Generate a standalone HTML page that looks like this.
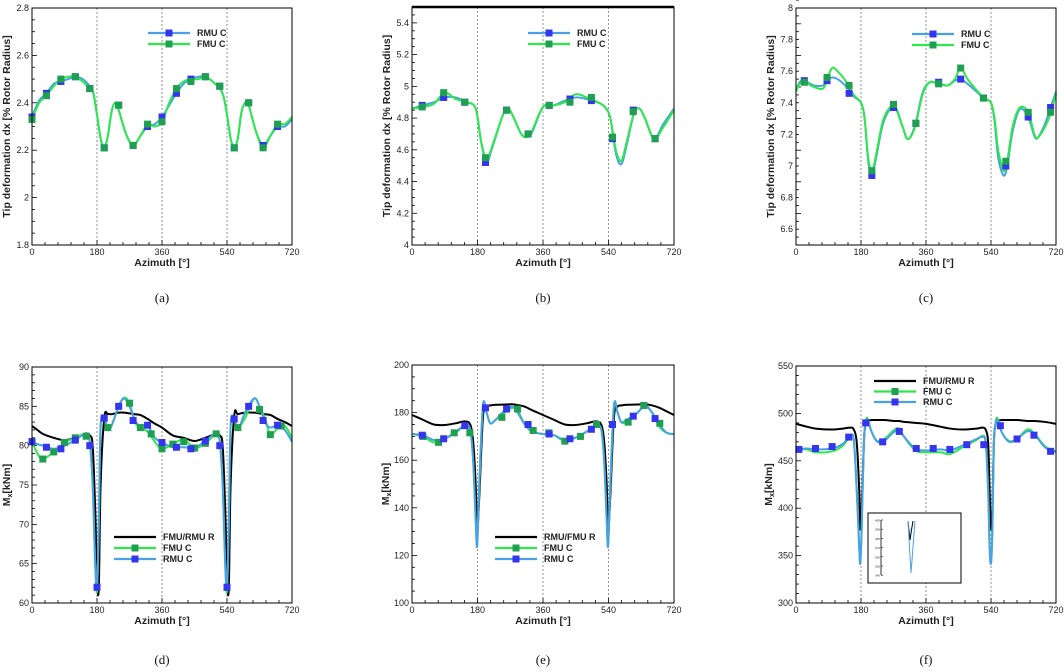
<!DOCTYPE html>
<html><head><meta charset="utf-8"><style>
html,body{margin:0;padding:0;background:#fff;}
svg{display:block;font-family:"Liberation Sans",sans-serif;}
.tk{font-size:9px;fill:#222;}
.ax{font-size:10.5px;font-weight:bold;fill:#222;}
.lg{font-size:9px;font-weight:bold;fill:#222;}
.cap{font-family:"Liberation Serif",serif;font-size:13px;fill:#111;}
</style></head><body>
<svg id="fig" width="1064" height="672" viewBox="0 0 1064 672" xmlns="http://www.w3.org/2000/svg"></svg>
<script>
// ---- Panel (a) data ----
const aAz=[0,20,40,60,80,100,120,140,160,170,180,190,200,210,220,230,240,260,280,300,320,340,360,380,400,420,440,460,480,500,520,530,540,550,560,570,580,590,600,620,640,660,680,700,720];
const aFmu=[2.33,2.40,2.43,2.47,2.50,2.51,2.51,2.49,2.46,2.44,2.35,2.25,2.21,2.26,2.36,2.40,2.37,2.27,2.22,2.26,2.31,2.30,2.32,2.40,2.46,2.49,2.50,2.50,2.51,2.49,2.46,2.43,2.35,2.25,2.21,2.25,2.36,2.40,2.39,2.28,2.21,2.26,2.31,2.31,2.34];
const aRmu=[2.34,2.41,2.44,2.48,2.49,2.50,2.51,2.50,2.47,2.44,2.35,2.25,2.21,2.26,2.36,2.40,2.37,2.27,2.22,2.26,2.30,2.31,2.34,2.39,2.44,2.48,2.50,2.51,2.51,2.49,2.46,2.43,2.35,2.25,2.21,2.25,2.36,2.40,2.39,2.28,2.22,2.26,2.30,2.30,2.33];
const aMkAz=[0,40,80,120,160,200,240,280,320,360,400,440,480,520,560,600,640,680];
const aMkFmu=[2.33,2.43,2.50,2.51,2.46,2.21,2.39,2.22,2.31,2.32,2.46,2.49,2.51,2.47,2.21,2.40,2.21,2.31];
const aMkRmu=[2.34,2.44,2.49,2.51,2.46,2.21,2.39,2.22,2.30,2.34,2.44,2.50,2.51,2.47,2.21,2.40,2.22,2.30];
// ---- Panel (b) data ----
const bAz=[0,30,60,90,120,150,175,190,205,220,250,265,280,300,315,330,360,390,420,450,480,510,530,545,560,575,590,610,625,640,665,690,720];
const bFmu=[4.86,4.87,4.89,4.96,4.92,4.90,4.86,4.65,4.54,4.62,4.82,4.86,4.80,4.70,4.68,4.72,4.87,4.88,4.90,4.95,4.93,4.90,4.87,4.80,4.60,4.53,4.65,4.83,4.86,4.80,4.67,4.74,4.85];
const bRmu=[4.86,4.88,4.90,4.93,4.93,4.90,4.86,4.65,4.52,4.61,4.82,4.86,4.80,4.70,4.68,4.71,4.87,4.88,4.91,4.93,4.92,4.90,4.87,4.80,4.58,4.51,4.63,4.83,4.86,4.80,4.67,4.76,4.86];
const bMkAz=[28,87,145,202,260,319,377,434,493,551,608,668];
const bMkFmu=[4.87,4.96,4.90,4.55,4.85,4.70,4.88,4.90,4.93,4.68,4.84,4.67];
const bMkRmu=[4.88,4.93,4.90,4.52,4.85,4.70,4.88,4.92,4.91,4.67,4.85,4.67];
// ---- Panel (c) data ----
const cAz=[0,10,23,50,75,86,100,115,140,160,180,190,200,210,220,240,260,275,295,310,330,350,370,395,420,440,456,475,500,520,540,550,560,575,585,600,620,643,660,670,690,705,720];
const cFmu=[7.47,7.52,7.53,7.50,7.49,7.55,7.62,7.60,7.53,7.45,7.40,7.30,7.05,6.97,7.05,7.28,7.37,7.38,7.25,7.17,7.25,7.45,7.53,7.52,7.51,7.55,7.62,7.55,7.48,7.43,7.40,7.30,7.10,6.97,7.03,7.25,7.37,7.34,7.20,7.18,7.25,7.33,7.46];
const cRmu=[7.48,7.53,7.54,7.51,7.51,7.54,7.56,7.55,7.50,7.44,7.40,7.30,7.03,6.94,7.03,7.26,7.36,7.37,7.25,7.17,7.26,7.46,7.53,7.52,7.51,7.54,7.55,7.52,7.47,7.43,7.40,7.28,7.05,6.94,7.00,7.22,7.36,7.31,7.19,7.18,7.27,7.37,7.47];
const cMkAz=[23,86,147,210,270,332,395,456,519,581,643,705];
const cMkFmu=[7.53,7.56,7.51,6.97,7.39,7.27,7.52,7.62,7.43,7.03,7.34,7.34];
const cMkRmu=[7.54,7.54,7.46,6.94,7.37,7.27,7.53,7.55,7.43,7.00,7.31,7.37];
// ---- Panel (d) data ----
const dAz=[0,15,30,60,90,120,150,160,168,175,180,185,190,200,210,220,240,255,270,285,300,320,340,360,390,420,450,480,510,520,528,535,540,545,550,560,570,590,615,630,645,660,680,700,720];
const dRef=[82.5,82,81.5,81,80.7,81,81.5,81.3,80,72,63,62,75,83.5,84,84,84.2,84.2,84.1,84,83.9,83.4,82.8,82.3,81.3,81,80.6,81,81.5,81.3,80,72,63,62,75,83.8,84,84.2,84.2,84.1,84,83.9,83.4,83,82.5];
const dFmu=[80.5,79,78.3,79.2,80.4,81,81.5,80.5,75,65,61.5,70,82.5,83.5,82.3,82.5,85,86.1,85.4,83,82.3,81.8,80.5,79.6,80.2,80.8,79.7,80.3,81.5,80.5,75,65,61.5,70,82.5,83.5,82.3,83.5,86,85,83.5,81.4,82.2,82.5,81];
const dRmu=[80.5,80.2,80,79.6,80,80.7,81.6,80.5,75,65,62,70,82.5,83.5,82,82.5,85,86,85,83.2,82.5,82.6,81,80.4,79.8,79.8,79.7,80.6,81.6,80.5,75,65,62,70,82.5,83.4,82,84.2,86,85,83,82.3,82.6,82,80.5];
const dMkAz=[0,40,80,120,160,180,200,240,280,320,360,400,440,480,520,540,560,600,640,680];
const dMkRmu=[80.5,79.8,79.6,80.7,80,62,83.5,85,83.2,82.6,80.4,79.8,79.6,80.6,80,62,83.4,85,83.2,82.6];
const dMkFmuAz=[0,30,60,90,120,150,180,210,270,300,330,360,390,420,450,480,510,540,570,630,660,690];
const dMkFmu=[80.5,78.3,79.2,80.4,81,81.2,62,82.3,85.4,82.3,81.5,79.6,80.2,80.5,79.7,80.3,81.5,62,82.3,84.6,81.4,82.5];
// ---- Panel (e) data ----
const eAz=[0,30,60,90,120,145,160,168,175,179,185,195,205,215,230,255,275,290,310,330,360,390,420,450,480,505,520,528,535,539,545,555,565,575,590,620,640,660,680,700,720];
const eRef=[179,177,175,174.8,175.5,176.3,175,168,150,130,145,178,182.5,183,183.3,183.4,183.5,183.2,182.5,181,179,177,175,174.8,175.5,176.3,175,168,150,130,145,178,182.5,183,183.3,183.4,183.5,183,182,180.5,179];
const eFmu=[171,170,167.5,169,171.5,174.5,172,160,135,124,150,183,180,175.5,177,180,182,181,175,172,171,170.5,168,169.5,172,174.5,173,160,135,124,150,183,180,176,176,180,183,180,174,171.5,171];
const eRmu=[171,170.5,168.5,169,172,174.5,173,160,135,124,150,183,180,175.5,177,181,182.5,180,175,172,171,170.5,168.5,169.5,172,174.5,173,160,135,124,150,183,180,176,177,180,183,180,175,171.5,171];
const eMkAz=[28,87,145,202,260,319,377,434,493,551,608,668];
const eMkRmu=[170.5,169,174.5,182,181.5,175,171,169,173,175,178.5,177.5];
const eMkFmuAz=[30,73,116,159,247,290,333,376,420,463,507,594,637,681];
const eMkFmu=[170,167.5,171.5,171.5,178,181.5,172.5,171.5,168,170,175,176,183,175.5];
// ---- Panel (f) data ----
const fAz=[0,30,54,100,130,150,160,168,175,178,182,188,193,198,210,225,245,270,285,300,330,360,400,426,460,500,515,525,532,536,540,544,548,553,558,570,590,612,640,660,690,720];
const fRef=[489,486,484,483,484,485,483,470,420,378,400,470,490,492,493,493,493,492,492,491,490,489,486,484,483,484,485,483,470,420,378,400,470,490,492,493,493,493,492,492,491,489];
const fFmu=[462,462,459,460,466,476,472,420,360,342,380,470,490,495,480,471,473,482,484,475,461,459,459,457,464,472,476,470,420,360,342,380,470,490,495,480,471,473,483,479,465,460];
const fRmu=[462,463,462,463,468,476,472,420,360,342,380,470,489,493,480,470,471,480,482,475,463,461,462,461,466,473,475,470,420,360,342,380,470,489,493,480,470,473,481,478,464,459];
const fMkAz=[8,54,100,146,193,240,286,333,380,426,473,520,566,612,659,705];
const fMkRmu=[462,463,465,475,490,470,481,463,463,462,467,467,487,473,477,460];

const NS="http://www.w3.org/2000/svg";
const svg=document.getElementById('fig');
function mk(tag,attrs,parent){const e=document.createElementNS(NS,tag);for(const k in attrs)e.setAttribute(k,attrs[k]);(parent||svg).appendChild(e);return e;}
function smooth(pts){
  let d='M'+pts[0][0].toFixed(2)+','+pts[0][1].toFixed(2);
  for(let i=0;i<pts.length-1;i++){
    const p0=pts[Math.max(0,i-1)],p1=pts[i],p2=pts[i+1],p3=pts[Math.min(pts.length-1,i+2)];
    const c1=[p1[0]+(p2[0]-p0[0])/6,p1[1]+(p2[1]-p0[1])/6];
    const c2=[p2[0]-(p3[0]-p1[0])/6,p2[1]-(p3[1]-p1[1])/6];
    d+='C'+c1[0].toFixed(2)+','+c1[1].toFixed(2)+' '+c2[0].toFixed(2)+','+c2[1].toFixed(2)+' '+p2[0].toFixed(2)+','+p2[1].toFixed(2);
  }
  return d;
}
const GREEN='#2de84a',GREENM='#1ea050',BLUE='#4aa0e6',BLUEM='#3535f0';

function panel(cfg){
  const g=mk('g',{});
  
  
  const X=a=>cfg.x0+(a/720)*(cfg.x1-cfg.x0);
  const Y=v=>cfg.yb-(v-cfg.ymin)/(cfg.ymax-cfg.ymin)*(cfg.yb-cfg.yt);
  [180,360,540].forEach(a=>{const l=mk('line',{x1:X(a),x2:X(a),y1:cfg.yt,y2:cfg.yb,stroke:'#777','stroke-width':0.8,'stroke-dasharray':'2,2'},g);
    });
  for(let a=0;a<=720;a+=36){const maj=a%180===0;mk('line',{x1:X(a),x2:X(a),y1:cfg.yb,y2:cfg.yb-(maj?5:3),stroke:'#000','stroke-width':0.8},g);}
  [0,180,360,540,720].forEach(a=>{const t=mk('text',{x:X(a),y:cfg.yb+10,'text-anchor':'middle',class:'tk'},g);t.textContent=a;
    });
  const nt=Math.round((cfg.ymax-cfg.ymin)/cfg.ystep);
  for(let i=0;i<=nt*cfg.sub;i++){const v=cfg.ymin+i*cfg.ystep/cfg.sub;const maj=i%cfg.sub===0;
    mk('line',{x1:cfg.x0,x2:cfg.x0+(maj?5:3),y1:Y(v),y2:Y(v),stroke:'#000','stroke-width':0.8},g);}
  cfg.ylabels.forEach(v=>{const t=mk('text',{x:cfg.x0-3,y:Y(v)+3,'text-anchor':'end',class:'tk'},g);t.textContent=v;
    });
  cfg.series.forEach(s=>{
    const p=mk('path',{d:smooth(s.az.map((a,i)=>[X(a),Y(s.v[i])])),fill:'none',stroke:s.color,'stroke-width':s.w||2,'stroke-linejoin':'round'},g);
    
  });
  cfg.markers.forEach(m=>{
    m.az.forEach((a,i)=>{const r=mk('rect',{x:X(a)-3.5,y:Y(m.v[i])-3.5,width:7,height:7,fill:m.color},g);
      });
  });
  const f=mk('rect',{x:cfg.x0,y:cfg.yt,width:cfg.x1-cfg.x0,height:cfg.yb-cfg.yt,fill:'none',stroke:'#000','stroke-width':1},g);
  
  if(cfg.thickTop){mk('line',{x1:cfg.x0,x2:cfg.x1,y1:cfg.yt,y2:cfg.yt,stroke:'#000','stroke-width':2.5},g);}
  const xt=mk('text',{x:(cfg.x0+cfg.x1)/2,y:cfg.yb+21,'text-anchor':'middle',class:'ax'},g);xt.textContent='Azimuth [°]';
  
  const yc=(cfg.yt+cfg.yb)/2;
  const yt=mk('text',{x:cfg.ylx,y:yc,'text-anchor':'middle',class:'ax',transform:`rotate(-90 ${cfg.ylx} ${yc})`},g);
  if(cfg.mx){yt.innerHTML='M<tspan font-size="7" dy="2">x</tspan><tspan dy="-2">[kNm]</tspan>';}
  else yt.textContent='Tip deformation dx [% Rotor Radius]';
  
  cfg.legend.items.forEach((it,i)=>{
    const ly=cfg.legend.y+i*cfg.legend.dy;
    const lg=mk('g',{},g);
    
    mk('line',{x1:cfg.legend.x,x2:cfg.legend.x+42,y1:ly,y2:ly,stroke:it.c,'stroke-width':it.w||2.2},lg);
    if(it.m) mk('rect',{x:cfg.legend.x+17.5,y:ly-3.5,width:7,height:7,fill:it.m},lg);
    const t=mk('text',{x:cfg.legend.x+49,y:ly+3,class:'lg'},lg);t.textContent=it.t;
  });
  const cap=mk('text',{x:(cfg.x0+cfg.x1)/2,y:cfg.capy,'text-anchor':'middle',class:'cap'},g);cap.textContent=cfg.cap;
  
  return {g,X,Y};
}
const topLeg=(x,y)=>({x,y,dy:11,items:[{t:'RMU C',c:BLUE,m:BLUEM},{t:'FMU C',c:GREEN,m:GREENM}]});
panel({name:'panel-a',x0:32,x1:292,yt:8,yb:245,ymin:1.8,ymax:2.8,ystep:0.2,sub:4,ylabels:['1.8','2','2.2','2.4','2.6','2.8'].map(Number),ylx:10,cap:'(a)',capy:302,
  series:[{id:'rmu-c',az:aAz,v:aRmu,color:BLUE},{id:'fmu-c',az:aAz,v:aFmu,color:GREEN}],
  markers:[{id:'rmu-c',az:aMkAz,v:aMkRmu,color:BLUEM},{id:'fmu-c',az:aMkAz,v:aMkFmu,color:GREENM}],legend:topLeg(148,33)});
panel({name:'panel-b',x0:412,x1:674,yt:7,yb:245,ymin:4,ymax:5.5,ystep:0.2,sub:4,thickTop:true,ylabels:[4,4.2,4.4,4.6,4.8,5,5.2,5.4],ylx:390,cap:'(b)',capy:302,
  series:[{id:'rmu-c',az:bAz,v:bRmu,color:BLUE},{id:'fmu-c',az:bAz,v:bFmu,color:GREEN}],
  markers:[{id:'rmu-c',az:bMkAz,v:bMkRmu,color:BLUEM},{id:'fmu-c',az:bMkAz,v:bMkFmu,color:GREENM}],legend:topLeg(528,33)});
panel({name:'panel-c',x0:796,x1:1056,yt:8,yb:245,ymin:6.5,ymax:8,ystep:0.2,sub:4,ylabels:[6.6,6.8,7,7.2,7.4,7.6,7.8,8],ylx:774,cap:'(c)',capy:302,
  series:[{id:'rmu-c',az:cAz,v:cRmu,color:BLUE},{id:'fmu-c',az:cAz,v:cFmu,color:GREEN}],
  markers:[{id:'rmu-c',az:cMkAz,v:cMkRmu,color:BLUEM},{id:'fmu-c',az:cMkAz,v:cMkFmu,color:GREENM}],legend:topLeg(912,34)});
panel({name:'panel-d',x0:32,x1:292,yt:367,yb:603,ymin:60,ymax:90,ystep:5,sub:5,ylabels:[60,65,70,75,80,85,90],ylx:10,mx:true,cap:'(d)',capy:664,
  series:[{id:'fmu-rmu-r',az:dAz,v:dRef,color:'#000'},{id:'fmu-c',az:dAz,v:dFmu,color:GREEN},{id:'rmu-c',az:dAz,v:dRmu,color:BLUE}],
  markers:[{id:'fmu-c',az:dMkFmuAz,v:dMkFmu,color:GREENM},{id:'rmu-c',az:dMkAz,v:dMkRmu,color:BLUEM}],
  legend:{x:114,y:537,dy:11,items:[{t:'FMU/RMU R',c:'#000'},{t:'FMU C',c:GREEN,m:GREENM},{t:'RMU C',c:BLUE,m:BLUEM}]}});
panel({name:'panel-e',x0:412,x1:674,yt:365,yb:603,ymin:100,ymax:200,ystep:20,sub:4,ylabels:[100,120,140,160,180,200],ylx:389,mx:true,cap:'(e)',capy:664,
  series:[{id:'rmu-fmu-r',az:eAz,v:eRef,color:'#000'},{id:'fmu-c',az:eAz,v:eFmu,color:GREEN},{id:'rmu-c',az:eAz,v:eRmu,color:BLUE}],
  markers:[{id:'fmu-c',az:eMkFmuAz,v:eMkFmu,color:GREENM},{id:'rmu-c',az:eMkAz,v:eMkRmu,color:BLUEM}],
  legend:{x:495,y:537,dy:11,items:[{t:'RMU/FMU R',c:'#000'},{t:'FMU C',c:GREEN,m:GREENM},{t:'RMU C',c:BLUE,m:BLUEM}]}});
const pf=panel({name:'panel-f',x0:796,x1:1056,yt:366,yb:603,ymin:300,ymax:550,ystep:50,sub:5,ylabels:[300,350,400,450,500,550],ylx:772,mx:true,cap:'(f)',capy:664,
  series:[{id:'fmu-rmu-r',az:fAz,v:fRef,color:'#000'},{id:'fmu-c',az:fAz,v:fFmu,color:GREEN},{id:'rmu-c',az:fAz,v:fRmu,color:BLUE}],
  markers:[{id:'rmu-c',az:fMkAz,v:fMkRmu,color:BLUEM}],
  legend:{x:874,y:381,dy:10.5,items:[{t:'FMU/RMU R',c:'#000'},{t:'FMU C',c:GREEN,m:GREENM},{t:'RMU C',c:BLUE,m:BLUEM}]}});
const ins=mk('g',{});


mk('rect',{x:868,y:513,width:93,height:70,fill:'#fff',stroke:'#000','stroke-width':1},ins);
mk('line',{x1:881,x2:881,y1:520,y2:575,stroke:'#000','stroke-width':0.8},ins);
for(let i=0;i<=6;i++){mk('line',{x1:881,x2:883,y1:520+i*9.2,y2:520+i*9.2,stroke:'#000','stroke-width':0.6},ins);
  const t=mk('text',{x:880,y:521.5+i*9.2,'text-anchor':'end','font-size':'3','fill':'#333'},ins);t.textContent=400-i*10;}
mk('path',{d:'M908,521 L910,540 L911,533 L913,521',fill:'none',stroke:'#000','stroke-width':1},ins);
mk('path',{d:'M908,521 L911,573 L915,521',fill:'none',stroke:BLUE,'stroke-width':1},ins);
</script>
</body></html>
